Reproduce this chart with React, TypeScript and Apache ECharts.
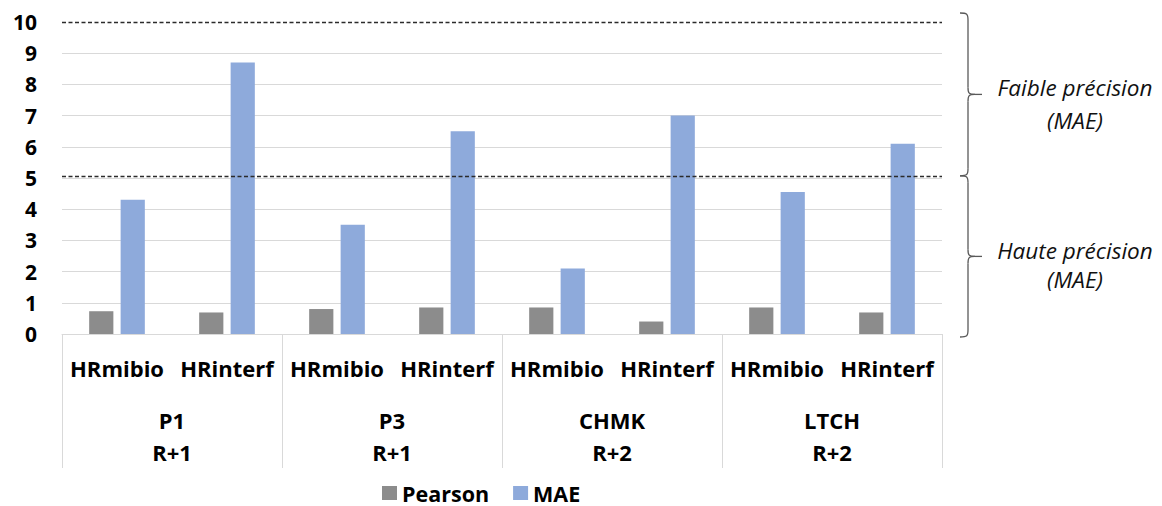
import React, { useEffect, useRef } from "react";
import * as echarts from "echarts";

const groups = ["P1\nR+1", "P3\nR+1", "CHMK\nR+2", "LTCH\nR+2"];
const methods = ["HRmibio", "HRinterf"];
const categories = groups.flatMap(() => methods);
const pearson = [0.73, 0.69, 0.8, 0.85, 0.85, 0.4, 0.85, 0.69];
const mae = [4.3, 8.7, 3.5, 6.5, 2.1, 7.0, 4.55, 6.1];
const yMin = 0;
const yMax = 10;
const yInterval = 1;
const thresholds = [5.07, 10];
const zones = [
  { from: 10, to: 5.07, lines: ["Faible précision", "(MAE)"] },
  { from: 5.07, to: 0, lines: ["Haute précision", "(MAE)"] },
];

const FONT = "Open Sans";

function brace(x0: number, yA: number, yB: number, color: string) {
  const ym = (yA + yB) / 2;
  const r = 7;
  const style = { stroke: color, lineWidth: 1.3, fill: "none" };
  return [
    { type: "bezierCurve", shape: { x1: x0 - 8, y1: yA, x2: x0, y2: yA + r, cpx1: x0 - 1, cpy1: yA, cpx2: x0, cpy2: yA + 1 }, style, silent: true },
    { type: "line", shape: { x1: x0, y1: yA + r, x2: x0, y2: ym - r }, style, silent: true },
    { type: "bezierCurve", shape: { x1: x0, y1: ym - r, x2: x0 + 7, y2: ym, cpx1: x0, cpy1: ym - 1, cpx2: x0 + 1, cpy2: ym }, style, silent: true },
    { type: "line", shape: { x1: x0 + 7, y1: ym, x2: x0 + 14, y2: ym }, style, silent: true },
    { type: "bezierCurve", shape: { x1: x0, y1: ym + r, x2: x0 + 7, y2: ym, cpx1: x0, cpy1: ym + 1, cpx2: x0 + 1, cpy2: ym }, style, silent: true },
    { type: "line", shape: { x1: x0, y1: ym + r, x2: x0, y2: yB - r }, style, silent: true },
    { type: "bezierCurve", shape: { x1: x0, y1: yB - r, x2: x0 - 8, y2: yB, cpx1: x0, cpy1: yB - 1, cpx2: x0 - 1, cpy2: yB }, style, silent: true },
  ];
}

export default function App() {
  const ref = useRef<HTMLDivElement>(null);
  useEffect(() => {
    if (!ref.current) return;
    const chart = echarts.init(ref.current, undefined, { renderer: "svg" });
    const labelFont = { fontFamily: FONT, fontWeight: "bold", color: "#000" };
    chart.setOption({
      animation: false,
      backgroundColor: "#fff",
      grid: { left: 62, right: 220, top: 22, bottom: 172, containLabel: false },
      legend: {
        data: ["Pearson", "MAE"],
        left: 377,
        top: 477,
        padding: 5,
        itemWidth: 15,
        itemHeight: 14,
        itemGap: 24,
        icon: "rect",
        textStyle: { ...labelFont, fontSize: 21.5, lineHeight: 18 },
      },
      xAxis: [
        {
          type: "category",
          data: categories,
          position: "bottom",
          axisLine: { show: true, lineStyle: { color: "#d9d9d9", width: 1 } },
          axisTick: { show: false },
          axisLabel: { ...labelFont, fontSize: 22, lineHeight: 22, margin: 23, interval: 0 },
          splitLine: { show: false },
        },
        {
          type: "category",
          data: groups,
          position: "bottom",
          axisLine: { show: false },
          axisTick: { show: true, length: 134, lineStyle: { color: "#d9d9d9", width: 1 } },
          axisLabel: { ...labelFont, fontSize: 22, lineHeight: 32, margin: 70, interval: 0 },
          splitLine: { show: false },
        },
      ],
      yAxis: {
        type: "value",
        min: yMin,
        max: yMax,
        interval: yInterval,
        axisLine: { show: false },
        axisTick: { show: false },
        axisLabel: { ...labelFont, fontSize: 21, margin: 25 },
        splitLine: { lineStyle: { color: "#d9d9d9", width: 1 } },
      },
      series: [
        {
          name: "Pearson",
          type: "bar",
          data: pearson,
          xAxisIndex: 0,
          barWidth: "22%",
          barGap: "30%",
          itemStyle: { color: "#8c8c8c" },
        },
        {
          name: "MAE",
          type: "bar",
          data: mae,
          xAxisIndex: 0,
          barWidth: "22%",
          barGap: "30%",
          itemStyle: { color: "#8eaadb" },
          markLine: {
            silent: true,
            symbol: "none",
            label: { show: false },
            lineStyle: { color: "#2b2b2b", type: [4, 2.5], width: 1.3 },
            data: [
              { yAxis: 10, lineStyle: { color: "#fff", type: "solid", width: 2 } },
              ...thresholds.map((t) => ({ yAxis: t })),
            ],
          },
        },
      ],
    });

    const py = (v: number) => chart.convertToPixel({ yAxisIndex: 0 }, v) as number;
    const graphics: any[] = [];
    const x0 = 968;
    zones.forEach((z, i) => {
      const yA = py(z.from) - (i === 0 ? 9 : 0);
      const yB = py(z.to) + (i === 1 ? 3 : 0);
      graphics.push(...brace(x0, yA, yB, "#595959"));
      const ym = (yA + yB) / 2;
      const offs = i === 0 ? [-7, 26] : [-6, 23];
      z.lines.forEach((t, k) => {
        graphics.push({
          type: "text",
          x: 1075,
          y: ym + offs[k],
          silent: true,
          style: {
            text: t,
            fontFamily: FONT,
            fontStyle: "italic",
            fontSize: 22.5,
            fill: "#111",
            align: "center",
            verticalAlign: "middle",
          },
        });
      });
    });
    chart.setOption({ graphic: graphics });
    return () => chart.dispose();
  }, []);
  return (
    <div
      ref={ref}
      style={{ position: "absolute", left: 0, top: 0, width: 1162, height: 506 }}
    />
  );
}
